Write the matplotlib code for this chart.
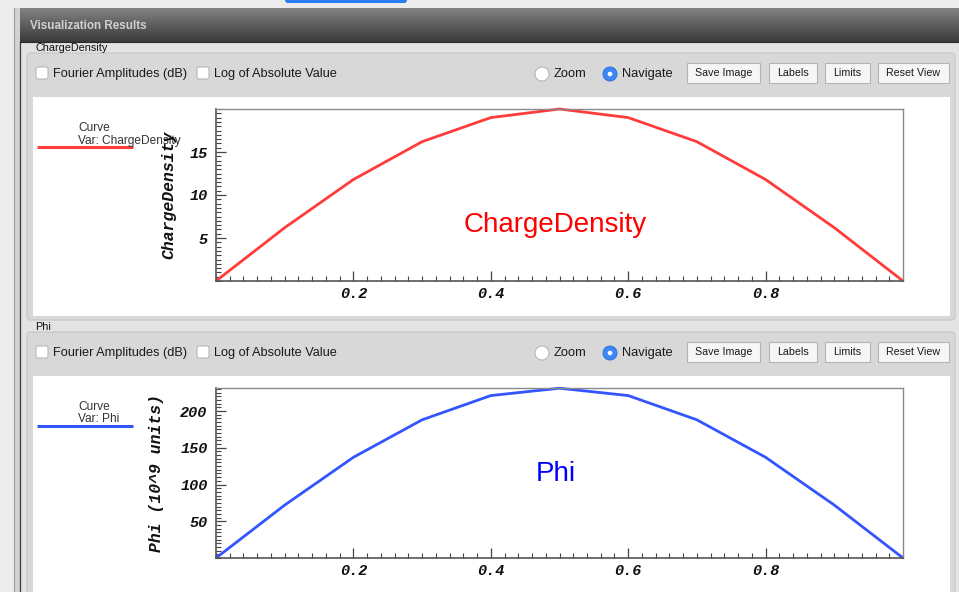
import numpy as np
import matplotlib
matplotlib.use("Agg")
import matplotlib.pyplot as plt
from matplotlib.patches import Rectangle, FancyBboxPatch, Circle
from matplotlib.ticker import MultipleLocator, FixedLocator

# ---------------- data ----------------
x_values = [0.0, 0.1, 0.2, 0.3, 0.4, 0.5, 0.6, 0.7, 0.8, 0.9, 1.0]
charge_density = [0.0, 6.2, 11.8, 16.2, 19.0, 20.0, 19.0, 16.2, 11.8, 6.2, 0.0]
phi_values = [0.0, 72, 137, 188, 221, 231, 221, 188, 137, 72, 0.0]
x_ticks = [0.2, 0.4, 0.6, 0.8]
x_tick_labels = ["0.2", "0.4", "0.6", "0.8"]
charge_ticks = [5, 10, 15]
phi_ticks = [50, 100, 150, 200]
panel_names = ["ChargeDensity", "Phi"]
y_labels = ["ChargeDensity", "Phi (10^9 units)"]
curve_colors = ["#ff3b3b", "#3355ff"]
title_colors = ["#ff0000", "#0000ff"]

W, H = 959, 592
fig = plt.figure(figsize=(W / 100, H / 100), dpi=100)

ov = fig.add_axes([0, 0, 1, 1], zorder=0)
ov.set_xlim(0, W)
ov.set_ylim(H, 0)
ov.axis("off")

GUI = "Liberation Sans"
MONO = "Liberation Mono"


def rect(x0, y0, x1, y1, fc, ec="none", lw=0, z=1):
    ov.add_patch(Rectangle((x0, y0), x1 - x0, y1 - y0, facecolor=fc,
                           edgecolor=ec, linewidth=lw, zorder=z))


def rrect(x0, y0, x1, y1, fc, ec, lw=0.8, r=3, z=1):
    ov.add_patch(FancyBboxPatch((x0, y0), x1 - x0, y1 - y0,
                                boxstyle=f"round,pad=0,rounding_size={r}",
                                facecolor=fc, edgecolor=ec, linewidth=lw, zorder=z))


# ---------------- window chrome ----------------
rect(0, 0, W, H, "#ececec", z=0)
rrect(285, -6, 407, 3, "#2a7cf0", "none", r=3, z=1)
rect(20, 42, W, H, "#e3e3e3", z=1)
rect(14, 8, 20, H, "#d2d2d2", z=1)
ov.plot([13.5, 13.5], [8, H], color="#9a9a9a", lw=0.8, zorder=2)
ov.plot([19.5, 19.5], [42, H], color="#3a3a3a", lw=0.9, zorder=2)

# header gradient
grad = np.linspace(0, 1, 64)[:, None]
c_top = np.array([0x82, 0x82, 0x82]) / 255
c_bot = np.array([0x3a, 0x3a, 0x3a]) / 255
img = c_top[None, None, :] * (1 - grad[..., None]) + c_bot[None, None, :] * grad[..., None]
img = np.repeat(img, 2, axis=1)
ov.imshow(img, extent=(20, W, 42, 8), aspect="auto", zorder=2, interpolation="bilinear")
ov.plot([20, W], [41.5, 41.5], color="#2a2a2a", lw=0.8, zorder=3)
ov.text(30, 26, "Visualization Results", fontsize=8.4, fontweight="bold",
        color="#d0d0d0", family=GUI, va="center", ha="left", zorder=4)

panel_tops = [53, 332]
label_y = [48, 327]
row_y = [74, 353]
white_tops = [97, 376]
white_bots = [316, 600]
group_bots = [320, 610]

for i in range(2):
    gt = panel_tops[i]
    rrect(27, gt, 955, group_bots[i], "#d8d8d8", "#c6c6c6", lw=0.8, r=4, z=2)
    ov.text(35, label_y[i], panel_names[i], fontsize=7.8, family=GUI,
            color="#111111", va="center", ha="left", zorder=4)
    ry = row_y[i]
    # checkboxes
    for bx, txt in [(36, "Fourier Amplitudes (dB)"), (197, "Log of Absolute Value")]:
        rrect(bx, ry - 7, bx + 12, ry + 5, "#ffffff", "#b0b0b0", lw=0.7, r=2, z=3)
        ov.text(bx + 17, ry, txt, fontsize=9.2, family=GUI, color="#1a1a1a",
                va="center", ha="left", zorder=4)
    # radios
    ov.add_patch(Circle((542, ry), 7, facecolor="#ffffff", edgecolor="#b0b0b0",
                        lw=0.7, zorder=3))
    ov.text(554, ry, "Zoom", fontsize=9.3, family=GUI, color="#1a1a1a",
            va="center", ha="left", zorder=4)
    ov.add_patch(Circle((610, ry), 7, facecolor="#3d87f5", edgecolor="#3170d8",
                        lw=0.7, zorder=3))
    ov.add_patch(Circle((610, ry), 2.3, facecolor="#ffffff", edgecolor="none",
                        zorder=4))
    ov.text(622, ry, "Navigate", fontsize=9.3, family=GUI, color="#1a1a1a",
            va="center", ha="left", zorder=4)
    # buttons
    for bx0, bx1, txt in [(687, 760, "Save Image"), (769, 817, "Labels"),
                          (825, 870, "Limits"), (878, 949, "Reset View")]:
        rect(bx0, ry - 11, bx1, ry + 9, "#f6f6f6", "#b4b4b4", lw=0.8, z=3)
        ov.text((bx0 + bx1) / 2, ry - 1, txt, fontsize=7.7, family=GUI, color="#1a1a1a",
                va="center", ha="center", zorder=4)
    # white plotting area
    rect(33, white_tops[i], 950, white_bots[i], "#ffffff", z=3)

# ---------------- plots ----------------
ax_px = [(216, 109, 903, 281), (216, 388, 903, 558)]
ylims = [(0, 20.0), (0, 231.3)]
series = [charge_density, phi_values]
yticks_all = [charge_ticks, phi_ticks]
yminor = [0.5, 5]
label_x = [-40 / 687, -52 / 687]
legend_line_y = [147, 426]
legend_text_y = [(128, 141), (407, 419)]
legend_names = ["Var: ChargeDensity", "Var: Phi"]
title_pos = [(555, 225), (556, 474)]

for i in range(2):
    x0, y0, x1, y1 = ax_px[i]
    ax = fig.add_axes([x0 / W, 1 - y1 / H, (x1 - x0) / W, (y1 - y0) / H], zorder=5)
    ax.set_facecolor("none")
    ax.plot(x_values, series[i], color=curve_colors[i], lw=2.0, solid_capstyle="butt",
            clip_on=False)
    ax.set_xlim(0, 1)
    ax.set_ylim(*ylims[i])
    ax.xaxis.set_major_locator(FixedLocator(x_ticks))
    ax.set_xticklabels(x_tick_labels)
    ax.xaxis.set_minor_locator(MultipleLocator(0.02))
    ax.yaxis.set_major_locator(FixedLocator(yticks_all[i]))
    ax.yaxis.set_minor_locator(MultipleLocator(yminor[i]))
    ax.tick_params(which="major", direction="in", length=7, width=0.9, color="#444444",
                   top=False, right=False)
    ax.tick_params(which="minor", direction="in", length=3.5, width=0.8, color="#444444",
                   top=False, right=False)
    ax.tick_params(axis="x", which="major", pad=4)
    ax.tick_params(axis="y", which="major", pad=6)
    for lab in ax.get_xticklabels() + ax.get_yticklabels():
        lab.set_fontfamily(MONO)
        lab.set_fontweight("bold")
        lab.set_fontstyle("italic")
        lab.set_fontsize(11)
        lab.set_color("#111111")
    for s in ["top", "right"]:
        ax.spines[s].set_color("#8a8a8a")
        ax.spines[s].set_linewidth(1.0)
    for s in ["left", "bottom"]:
        ax.spines[s].set_color("#555555")
        ax.spines[s].set_linewidth(1.2)
    ax.set_ylabel(y_labels[i], fontsize=11.8, family=MONO, fontweight="bold",
                  fontstyle="italic", color="#111111")
    ax.yaxis.set_label_coords(label_x[i], 0.5)
    # in-plot title
    tx, ty = title_pos[i]
    ov.text(tx, ty, panel_names[i], fontsize=20, family=GUI, color=title_colors[i],
            va="center", ha="center", zorder=6)
    # legend
    ov.plot([37, 133], [legend_line_y[i], legend_line_y[i]], color=curve_colors[i],
            lw=2.2, zorder=6, solid_capstyle="butt")
    ov.text(78, legend_text_y[i][0], "Curve", fontsize=8.6, family=GUI, color="#333333",
            va="center", ha="left", zorder=6)
    ov.text(78, legend_text_y[i][1], legend_names[i], fontsize=8.6, family=GUI,
            color="#333333", va="center", ha="left", zorder=6)

# clipped x-axis label fragment at the bottom of the top panel
ov.text(555, 316, "X", fontsize=11, family=MONO, fontweight="bold", fontstyle="italic",
        color="#111111", va="top", ha="center", zorder=4,
        clip_on=True, clip_box=None).set_clip_path(
            Rectangle((33, 97), 917, 219, transform=ov.transData))

fig.savefig("out.png", dpi=100)
